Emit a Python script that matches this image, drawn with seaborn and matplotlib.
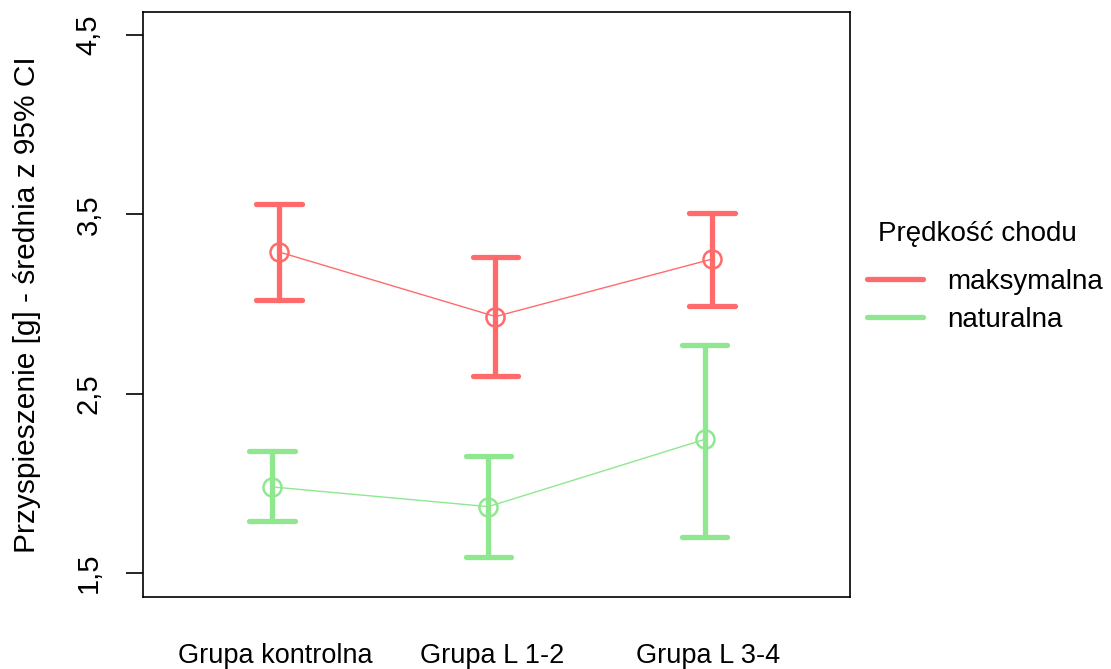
import pandas as pd
import numpy as np
import matplotlib
matplotlib.use("Agg")
import matplotlib.pyplot as plt
from matplotlib.lines import Line2D
import seaborn as sns

# --- data ---
groups = ["Grupa kontrolna", "Grupa L 1-2", "Grupa L 3-4"]
series = ["maksymalna", "naturalna"]
mean_maks = [3.29, 2.93, 3.25]
lo_maks = [3.02, 2.60, 2.99]
hi_maks = [3.56, 3.26, 3.51]
mean_nat = [1.98, 1.87, 2.245]
lo_nat = [1.79, 1.59, 1.70]
hi_nat = [2.18, 2.15, 2.77]
yticks = [1.5, 2.5, 3.5, 4.5]
ytick_labels = ["1,5", "2,5", "3,5", "4,5"]

RED = "#ff6b6b"
GREEN = "#8fe88f"

# long table: lo / mean / hi per cell -> median + full range gives mean and CI
rows = []
for s, m, lo, hi in [("maksymalna", mean_maks, lo_maks, hi_maks),
                     ("naturalna", mean_nat, lo_nat, hi_nat)]:
    for g, a, b, c in zip(groups, m, lo, hi):
        for v in (b, a, c):
            rows.append({"grupa": g, "predkosc": s, "val": v})
df = pd.DataFrame(rows)

sns.set_theme(style="white")
plt.rcParams["font.family"] = ["Liberation Sans", "DejaVu Sans"]
plt.rcParams["text.color"] = "black"
plt.rcParams["axes.labelcolor"] = "black"
plt.rcParams["xtick.color"] = "black"
plt.rcParams["ytick.color"] = "black"

fig = plt.figure(figsize=(11.11, 6.69), dpi=100)
ax = fig.add_axes([0.1287, 0.1076, 0.765 - 0.1287, 0.982 - 0.1076])

sns.pointplot(data=df, x="grupa", y="val", hue="predkosc",
              order=groups, hue_order=["naturalna", "maksymalna"],
              palette={"maksymalna": RED, "naturalna": GREEN},
              estimator="median", errorbar=("pi", 100),
              dodge=0.033, capsize=0.21, markers="o",
              err_kws={"linewidth": 3.8}, linewidth=1,
              markersize=13, ax=ax, legend=False)

for ln in ax.lines:
    ln.set_markerfacecolor("none")
    ln.set_markeredgewidth(1.8)

ax.set_xlim(-0.613, 2.655)
ax.set_ylim(1.366, 4.628)
ax.set_yticks(yticks)
ax.set_yticklabels(ytick_labels, rotation=90, va="center", fontsize=21)
ax.tick_params(axis="y", length=12, width=1.2, color="black", pad=17,
               left=True)
ax.tick_params(axis="x", length=0, pad=33)
for t in ax.get_xticklabels():
    t.set_fontsize(19.5)
ax.set_xlabel("")
ax.set_ylabel("Przyspieszenie [g] - średnia z 95% CI", fontsize=21.5)
ax.yaxis.set_label_coords(-0.144, 0.5)
for sp in ax.spines.values():
    sp.set_color("black")
    sp.set_linewidth(1.2)

# legend: title as separate text so the gap to the entries matches
fig.text(0.790, 0.650, "Prędkość chodu", fontsize=20, va="center", ha="left")
handles = [Line2D([], [], color=RED, lw=3.8),
           Line2D([], [], color=GREEN, lw=3.8)]
leg = fig.legend(handles, series,
                 loc="upper left", bbox_to_anchor=(0.7804, 0.598),
                 frameon=False, fontsize=20, borderpad=0, borderaxespad=0,
                 handlelength=2.0, handletextpad=0.87, labelspacing=0.42)

fig.savefig("out.png", dpi=100)
